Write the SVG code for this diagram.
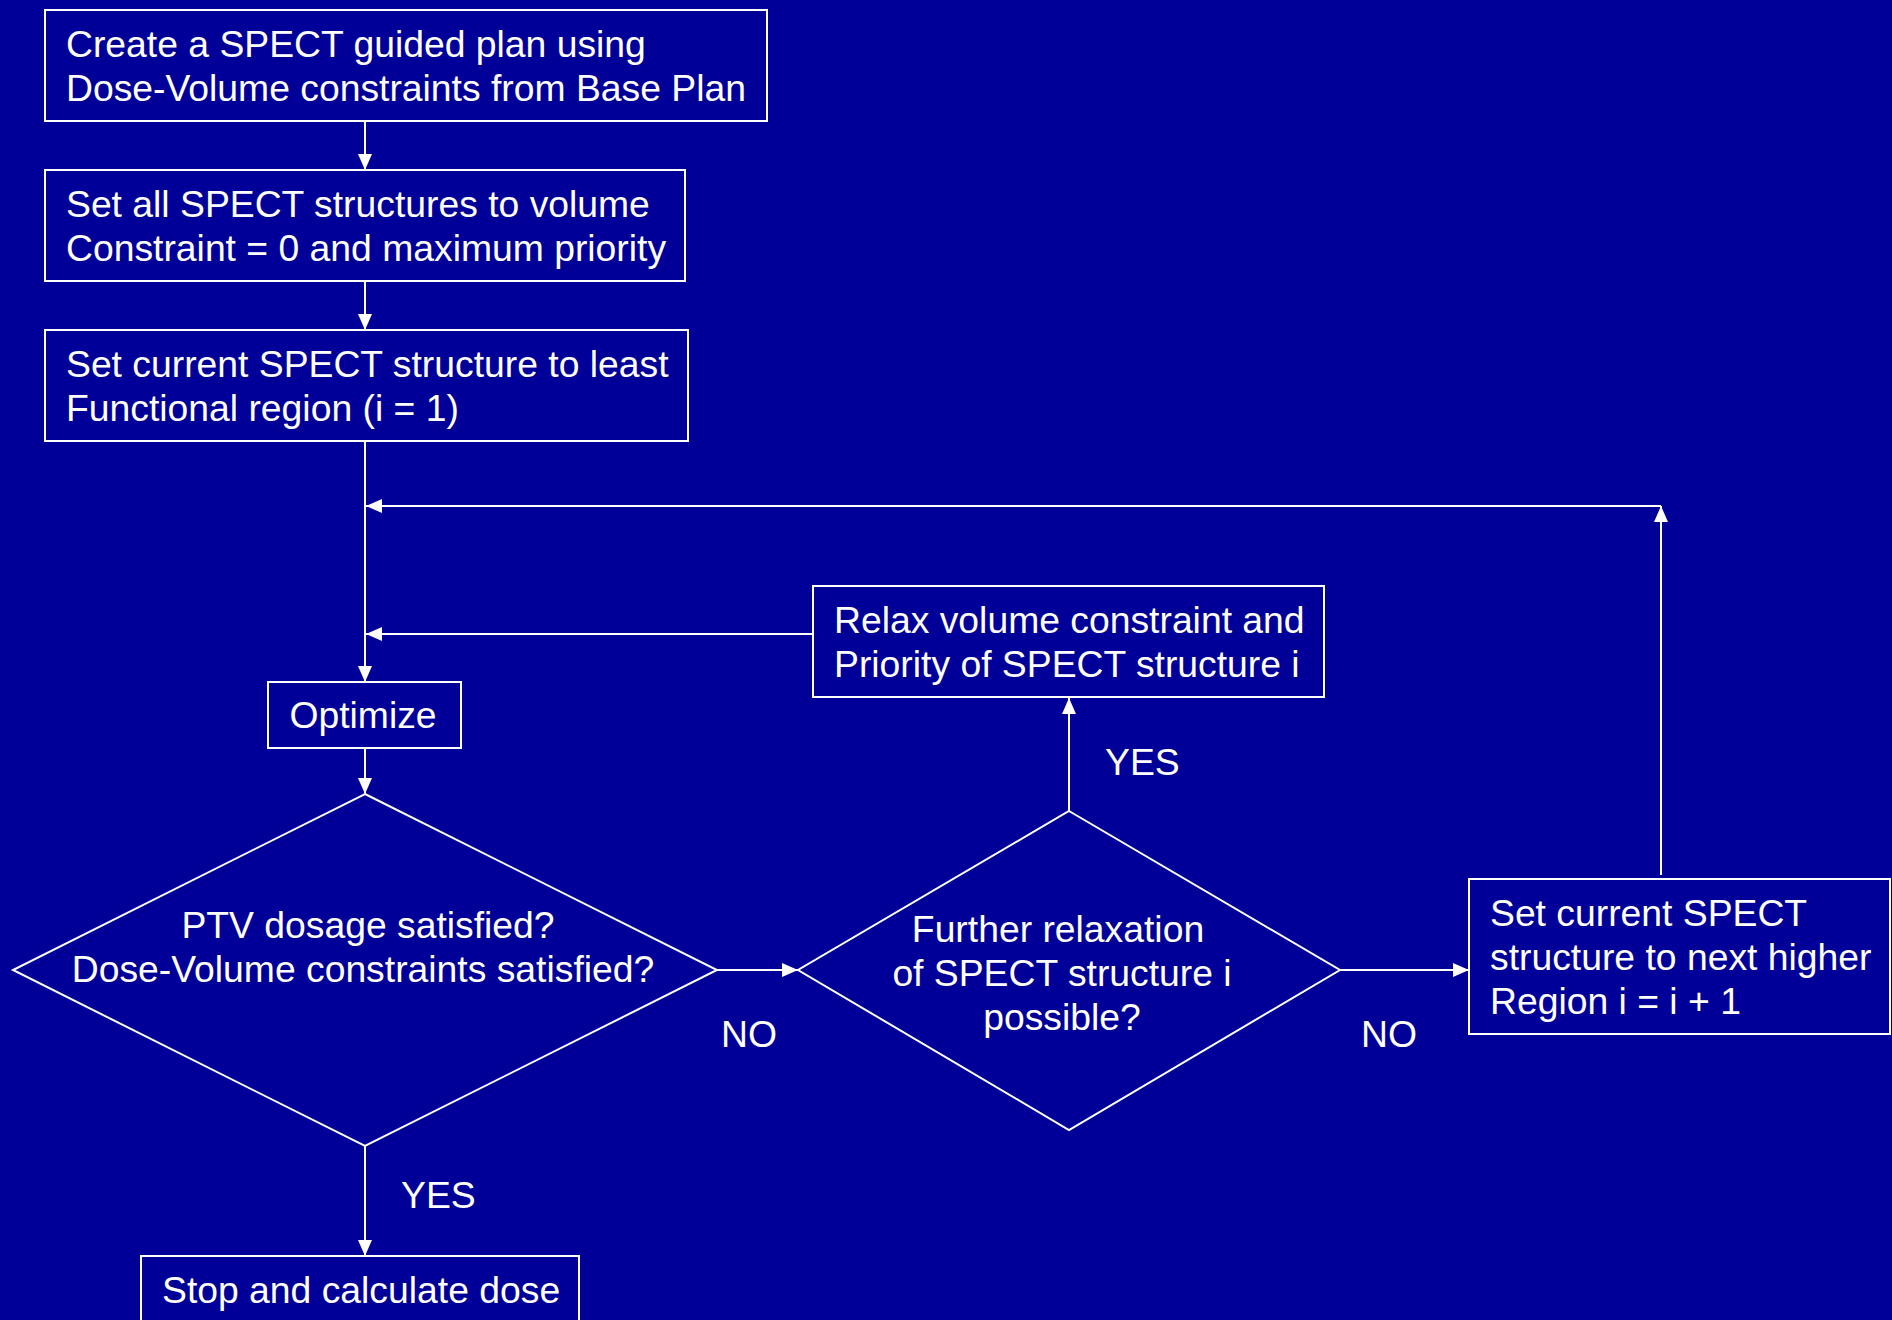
<svg xmlns="http://www.w3.org/2000/svg" width="1892" height="1320" viewBox="0 0 1892 1320">
<defs>
<marker id="arr" markerUnits="userSpaceOnUse" markerWidth="16" markerHeight="14" refX="16" refY="7" orient="auto">
<path d="M0,0 L16,7 L0,14 z" fill="#ffffff"/>
</marker>
<style>
.n{fill:none;stroke:#ffffff;stroke-width:2}
.t{font-family:"Liberation Sans",Arial,sans-serif;font-size:37.3px;fill:#ffffff}
.m{text-anchor:middle}
.c{fill:none;stroke:#ffffff;stroke-width:2}
</style>
</defs>
<rect x="0" y="0" width="1892" height="1320" fill="#000099"/>
<g id="connectors">
<line class="c" x1="365" y1="121" x2="365" y2="170" marker-end="url(#arr)"/>
<line class="c" x1="365" y1="281" x2="365" y2="330" marker-end="url(#arr)"/>
<line class="c" x1="365" y1="441" x2="365" y2="682" marker-end="url(#arr)"/>
<line class="c" x1="365" y1="748" x2="365" y2="794" marker-end="url(#arr)"/>
<line class="c" x1="365" y1="1146" x2="365" y2="1256" marker-end="url(#arr)"/>
<line class="c" x1="717" y1="970" x2="798" y2="970" marker-end="url(#arr)"/>
<line class="c" x1="1069" y1="811" x2="1069" y2="698" marker-end="url(#arr)"/>
<line class="c" x1="813" y1="634" x2="366" y2="634" marker-end="url(#arr)"/>
<line class="c" x1="1340" y1="970" x2="1469" y2="970" marker-end="url(#arr)"/>
<line class="c" x1="1661" y1="875" x2="1661" y2="506" marker-end="url(#arr)"/>
<line class="c" x1="1661" y1="506" x2="366" y2="506" marker-end="url(#arr)"/>
</g>
<g id="labels">
<text class="t" x="721" y="1047">NO</text>
<text class="t" x="1105" y="775">YES</text>
<text class="t" x="1361" y="1047">NO</text>
<text class="t" x="401" y="1208">YES</text>
</g>
<g id="create">
<rect class="n" x="45" y="10" width="722" height="111"/>
<text class="t" x="66" y="57">Create a SPECT guided plan using</text>
<text class="t" x="66" y="101">Dose-Volume constraints from Base Plan</text>
</g>
<g id="setall">
<rect class="n" x="45" y="170" width="640" height="111"/>
<text class="t" x="66" y="217">Set all SPECT structures to volume</text>
<text class="t" x="66" y="261">Constraint = 0 and maximum priority</text>
</g>
<g id="setcurrent">
<rect class="n" x="45" y="330" width="643" height="111"/>
<text class="t" x="66" y="377">Set current SPECT structure to least</text>
<text class="t" x="66" y="421">Functional region (i = 1)</text>
</g>
<g id="relax">
<rect class="n" x="813" y="586" width="511" height="111"/>
<text class="t" x="834" y="633">Relax volume constraint and</text>
<text class="t" x="834" y="677">Priority of SPECT structure i</text>
</g>
<g id="optimize">
<rect class="n" x="268" y="682" width="193" height="66"/>
<text class="t m" x="363" y="728">Optimize</text>
</g>
<g id="ptv">
<polygon class="n" points="365,794 717,970 365,1146 13,970"/>
<text class="t m" x="368" y="938">PTV dosage satisfied?</text>
<text class="t m" x="363" y="982">Dose-Volume constraints satisfied?</text>
</g>
<g id="further">
<polygon class="n" points="1069,811 1340,970 1069,1130 798,970"/>
<text class="t m" x="1058" y="942">Further relaxation</text>
<text class="t m" x="1062" y="986">of SPECT structure i</text>
<text class="t m" x="1062" y="1030">possible?</text>
</g>
<g id="nexthigher">
<rect class="n" x="1469" y="879" width="421" height="155"/>
<text class="t" x="1490" y="926">Set current SPECT</text>
<text class="t" x="1490" y="970">structure to next higher</text>
<text class="t" x="1490" y="1014">Region i = i + 1</text>
</g>
<g id="stop">
<rect class="n" x="141" y="1256" width="438" height="111"/>
<text class="t" x="162" y="1303">Stop and calculate dose</text>
</g>
</svg>
